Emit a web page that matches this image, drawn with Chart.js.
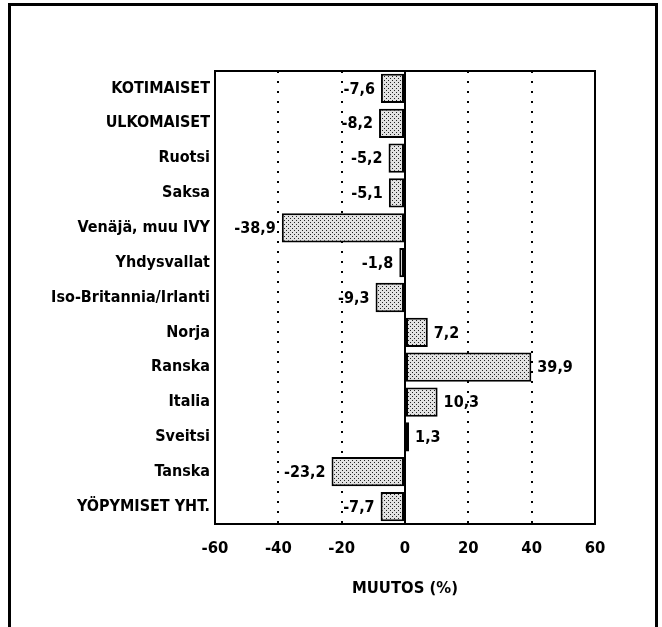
<!DOCTYPE html>
<html>
<head>
<meta charset="utf-8">
<script src="https://cdn.jsdelivr.net/npm/chart.js@4.4.1/dist/chart.umd.min.js"></script>
<style>
html,body{margin:0;padding:0;background:#fff;}
#wrap{position:relative;width:662px;height:627px;}
</style>
</head>
<body>
<div id="wrap"><canvas id="c" width="662" height="627"></canvas></div>
<script>
const categories = ["KOTIMAISET","ULKOMAISET","Ruotsi","Saksa","Venäjä, muu IVY","Yhdysvallat","Iso-Britannia/Irlanti","Norja","Ranska","Italia","Sveitsi","Tanska","YÖPYMISET YHT."];
const changes = [-7.6,-8.2,-5.2,-5.1,-38.9,-1.8,-9.3,7.2,39.9,10.3,1.3,-23.2,-7.7];
const xTicks = [-60,-40,-20,0,20,40,60];
const axisTitle = "MUUTOS (%)";

const FONT = '"Liberation Sans Narrow","Arial Narrow","DejaVu Sans Condensed",sans-serif';

function makePattern(){
  const p = document.createElement('canvas');
  p.width = 4; p.height = 4;
  const g = p.getContext('2d');
  g.fillStyle = '#e2e2e2'; g.fillRect(0,0,4,4);
  g.fillStyle = '#222';
  g.fillRect(0,0,1,1); g.fillRect(2,2,1,1);
  return g.createPattern(p,'repeat');
}

const framePlugin = {
  id:'frame',
  beforeDraw(chart){
    const ctx = chart.ctx;
    ctx.save();
    ctx.fillStyle='#fff'; ctx.fillRect(0,0,chart.width,chart.height);
    ctx.strokeStyle='#000'; ctx.lineWidth=3;
    ctx.beginPath();
    ctx.moveTo(9.5,627); ctx.lineTo(9.5,4.5); ctx.lineTo(656.5,4.5); ctx.lineTo(656.5,627);
    ctx.stroke();
    ctx.restore();
  },
  afterDatasetsDraw(chart){
    const ctx = chart.ctx, a = chart.chartArea, xs = chart.scales.x;
    ctx.save();
    ctx.strokeStyle='#000';
    ctx.lineWidth=2;
    const x0 = xs.getPixelForValue(0);
    ctx.beginPath(); ctx.moveTo(x0,a.top); ctx.lineTo(x0,a.bottom); ctx.stroke();
    ctx.strokeRect(a.left,a.top,a.right-a.left,a.bottom-a.top);
    // value labels
    const meta = chart.getDatasetMeta(0);
    ctx.fillStyle='#000';
    ctx.font = 'bold 16px ' + FONT;
    ctx.textBaseline='middle';
    meta.data.forEach((el,i)=>{
      const v = changes[i];
      const txt = v.toFixed(1).replace('.',',');
      if(v<0){ ctx.textAlign='right'; ctx.fillText(txt, el.x-6, el.y+1); }
      else { ctx.textAlign='left'; ctx.fillText(txt, el.x+6, el.y+1); }
    });
    ctx.restore();
  }
};

new Chart(document.getElementById('c'),{
  type:'bar',
  data:{
    labels:categories,
    datasets:[{
      data:changes,
      backgroundColor:makePattern(),
      borderColor:'#000',
      borderWidth:2,
      borderSkipped:false,
      barPercentage:0.84,
      categoryPercentage:1.0
    }]
  },
  options:{
    indexAxis:'y',
    responsive:false,
    animation:false,
    devicePixelRatio:1,
    layout:{padding:{top:71,right:67,bottom:0,left:0}},
    plugins:{legend:{display:false},tooltip:{enabled:false}},
    scales:{
      x:{
        min:-60,max:60,
        afterBuildTicks(s){ s.ticks = xTicks.map(v=>({value:v})); },
        afterFit(s){ s.height = 103; },
        grid:{
          drawTicks:false,
          color:(c)=> (c.tick && [-40,-20,20,40].includes(c.tick.value)) ? '#000' : 'rgba(0,0,0,0)',
          lineWidth:2
        },
        border:{display:false,dash:[2,8]},
        ticks:{
          padding:15,
          color:'#000',
          font:{family:FONT,size:16.5,weight:'bold'},
          callback:(v)=>String(v)
        },
        title:{
          display:true,text:axisTitle,color:'#000',
          font:{family:FONT,size:16.5,weight:'bold'},
          padding:{top:0,bottom:28}
        }
      },
      y:{
        afterFit(s){ s.width = 215; },
        grid:{display:false,drawTicks:false},
        border:{display:false},
        ticks:{
          padding:5,
          color:'#000',
          font:{family:FONT,size:16,weight:'bold'}
        }
      }
    }
  },
  plugins:[framePlugin]
});
</script>
</body>
</html>
